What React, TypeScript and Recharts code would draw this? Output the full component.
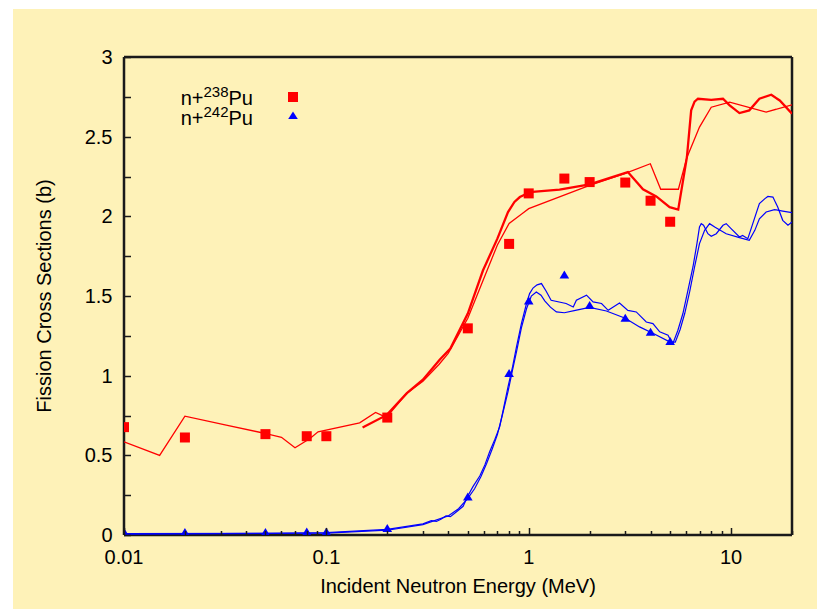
import React from 'react';
import { ComposedChart, Line, Scatter, XAxis, YAxis, Legend, Label, ReferenceLine } from 'recharts';

const FONT = '"Liberation Sans", Arial, Helvetica, sans-serif';
const BG = '#fef2b8';
const RED = '#ff0000';
const BLUE = '#0000ff';

// Experimental data (MeV, barns)
const expEnergy = [0.01, 0.02, 0.05, 0.08, 0.1, 0.2, 0.5, 0.8, 1, 1.5, 2, 3, 4, 5];
const pu238Exp = [0.677, 0.612, 0.633, 0.62, 0.62, 0.737, 1.297, 1.827, 2.144, 2.237, 2.215, 2.212, 2.098, 1.966];
const pu242Exp = [0.014, 0.012, 0.012, 0.015, 0.015, 0.038, 0.235, 1.01, 1.465, 1.628, 1.438, 1.358, 1.27, 1.212];

// n+238Pu evaluation (thin)
const pu238ThinE = [0.01, 0.015, 0.02, 0.032, 0.05, 0.06, 0.07, 0.083, 0.091, 0.146, 0.175, 0.198, 0.249, 0.3, 0.36, 0.4, 0.5, 0.6, 0.7, 0.8, 1.0, 2.0, 3.0, 3.99, 4.49, 5.49, 6.05, 6.98, 7.98, 9.84, 14.9, 20];
const pu238ThinS = [0.585, 0.5, 0.746, 0.69, 0.637, 0.613, 0.548, 0.606, 0.648, 0.704, 0.769, 0.738, 0.888, 0.965, 1.07, 1.14, 1.36, 1.61, 1.82, 1.955, 2.048, 2.194, 2.27, 2.33, 2.17, 2.17, 2.37, 2.56, 2.685, 2.717, 2.654, 2.7];

// n+238Pu calculation (thick)
const pu238ThickE = [0.151, 0.198, 0.25, 0.3, 0.363, 0.41, 0.5, 0.594, 0.7, 0.79, 0.85, 0.904, 1.01, 1.42, 2.0, 3.09, 3.67, 4.27, 4.97, 5.48, 6.05, 6.35, 6.6, 6.86, 7.98, 9.12, 9.84, 11.0, 12.3, 13.8, 15.8, 17.4, 20];
const pu238ThickS = [0.675, 0.752, 0.89, 0.975, 1.1, 1.17, 1.39, 1.66, 1.86, 2.027, 2.09, 2.121, 2.152, 2.167, 2.2, 2.278, 2.17, 2.125, 2.058, 2.042, 2.372, 2.665, 2.72, 2.738, 2.731, 2.738, 2.696, 2.648, 2.665, 2.738, 2.763, 2.727, 2.644];

// n+242Pu (structured curve)
const pu242AE = [0.01, 0.05, 0.1, 0.2, 0.3, 0.33, 0.35, 0.37, 0.39, 0.41, 0.44, 0.474, 0.5, 0.531, 0.573, 0.607, 0.641, 0.68, 0.719, 0.754, 0.79, 0.832, 0.87, 0.92, 0.975, 1.01, 1.05, 1.1, 1.156, 1.22, 1.29, 1.53, 1.66, 1.72, 1.93, 2.08, 2.29, 2.47, 2.81, 3.09, 3.4, 3.81, 4.11, 4.44, 4.88, 5.07, 5.16, 5.46, 5.78, 6.12, 6.48, 6.78, 6.98, 7.12, 7.31, 7.68, 7.98, 8.45, 9.12, 9.46, 10.0, 11.0, 11.4, 12.1, 12.8, 13.8, 14.7, 15.2, 16.1, 17.0, 18.0, 19.1, 20];
const pu242AS = [0.008, 0.01, 0.015, 0.035, 0.07, 0.09, 0.085, 0.1, 0.12, 0.115, 0.146, 0.18, 0.245, 0.305, 0.37, 0.44, 0.522, 0.6, 0.68, 0.805, 0.93, 1.055, 1.18, 1.327, 1.453, 1.515, 1.55, 1.57, 1.578, 1.53, 1.473, 1.453, 1.431, 1.473, 1.505, 1.463, 1.453, 1.41, 1.456, 1.41, 1.4, 1.337, 1.327, 1.275, 1.254, 1.212, 1.202, 1.285, 1.39, 1.536, 1.682, 1.829, 1.933, 1.954, 1.944, 1.891, 1.875, 1.891, 1.944, 1.954, 1.923, 1.87, 1.88, 1.86, 1.954, 2.08, 2.111, 2.125, 2.121, 2.058, 1.975, 1.944, 1.964];

// n+242Pu (smooth curve)
const pu242BE = [0.01, 0.1, 0.2, 0.3, 0.4, 0.45, 0.5, 0.54, 0.58, 0.62, 0.66, 0.7, 0.74, 0.79, 0.83, 0.87, 0.92, 0.975, 1.03, 1.09, 1.15, 1.2, 1.28, 1.37, 1.5, 1.7, 2.0, 2.42, 3.0, 3.53, 4.2, 4.97, 5.3, 5.6, 5.9, 6.25, 6.6, 6.98, 7.4, 7.83, 8.3, 9.46, 11.0, 12.3, 13.1, 13.8, 14.9, 16.4, 18.0, 20];
const pu242BS = [0.005, 0.012, 0.03, 0.065, 0.12, 0.165, 0.23, 0.29, 0.365, 0.45, 0.54, 0.63, 0.75, 0.9, 1.03, 1.15, 1.3, 1.42, 1.5, 1.525, 1.505, 1.47, 1.43, 1.4, 1.395, 1.41, 1.428, 1.406, 1.36, 1.306, 1.26, 1.212, 1.21, 1.29, 1.39, 1.53, 1.682, 1.829, 1.912, 1.954, 1.933, 1.891, 1.866, 1.85, 1.912, 1.985, 2.027, 2.042, 2.033, 2.023];

// Axis ticks
const xTicks = [0.01, 0.02, 0.03, 0.04, 0.05, 0.06, 0.07, 0.08, 0.09, 0.1, 0.2, 0.3, 0.4, 0.5, 0.6, 0.7, 0.8, 0.9, 1, 2, 3, 4, 5, 6, 7, 8, 9, 10, 20];
const xMajor = [0.01, 0.1, 1, 10];
const xMajorLabels = ['0.01', '0.1', '1', '10'];
const yTicks = [0, 0.25, 0.5, 0.75, 1, 1.25, 1.5, 1.75, 2, 2.25, 2.5, 2.75, 3];
const yMajor = [0, 0.5, 1, 1.5, 2, 2.5, 3];
const yMajorLabels = ['0', '0.5', '1', '1.5', '2', '2.5', '3'];
const xDomain = [0.01, 20];
const yDomain = [0, 3];

const zip = (xs: number[], ys: number[]) => xs.map((x, i) => ({ x, y: ys[i] }));

const expPu238 = zip(expEnergy, pu238Exp);
const expPu242 = zip(expEnergy, pu242Exp);
const thinPu238 = zip(pu238ThinE, pu238ThinS);
const thickPu238 = zip(pu238ThickE, pu238ThickS);
const curvePu242A = zip(pu242AE, pu242AS);
const curvePu242B = zip(pu242BE, pu242BS);

// layout (chart coordinates)
const W = 804;
const H = 600;
const M = { top: 48, right: 25, bottom: 34, left: 51 };
const Y_AXIS_W = 60;
const X_AXIS_H = 40;

const near = (a: number, b: number) => Math.abs(a - b) < 1e-9;
const snap = (v: number) => Math.round(v) + 0.5;
const TEXT = { fontFamily: FONT, fontSize: 20, fill: '#000' };
const INK = '#1a1a1a';

const BottomTick = (p: any) => {
  const v = p.payload.value;
  const idx = xMajor.findIndex((m) => near(m, v));
  const len = idx >= 0 ? 7 : 4;
  const x = snap(p.x);
  return (
    <g>
      <line x1={x} x2={x} y1={p.y} y2={p.y - len} stroke={INK} strokeWidth={1.5} />
      {idx >= 0 && (
        <text x={p.x} y={p.y + 28.5} textAnchor="middle" style={TEXT}>
          {xMajorLabels[idx]}
        </text>
      )}
    </g>
  );
};

const TopTick = (p: any) => {
  const v = p.payload.value;
  const idx = xMajor.findIndex((m) => near(m, v));
  const len = idx >= 0 ? 7 : 4;
  const x = snap(p.x);
  return <line x1={x} x2={x} y1={p.y} y2={p.y + len} stroke={INK} strokeWidth={1.5} />;
};

const LeftTick = (p: any) => {
  const v = p.payload.value;
  const idx = yMajor.findIndex((m) => near(m, v));
  const y = snap(p.y);
  return (
    <g>
      <line x1={p.x} x2={p.x + 7} y1={y} y2={y} stroke={INK} strokeWidth={1.5} />
      {idx >= 0 && (
        <text x={p.x - 11.5} y={p.y + 7} textAnchor="end" style={TEXT}>
          {yMajorLabels[idx]}
        </text>
      )}
    </g>
  );
};

const RightTick = (p: any) => {
  const y = snap(p.y);
  return <line x1={p.x} x2={p.x - 7} y1={y} y2={y} stroke={INK} strokeWidth={1.5} />;
};

const SquareShape = (p: any) => (
  <rect x={p.cx - 5} y={p.cy - 5} width={10} height={10} fill={RED} />
);
const TriangleShape = (p: any) => (
  <polygon
    points={`${p.cx},${p.cy - 5} ${p.cx + 4.8},${p.cy + 3} ${p.cx - 4.8},${p.cy + 3}`}
    fill={BLUE}
  />
);

const LegendContent = () => (
  <div style={{ position: 'relative', width: 200, height: 50, fontFamily: FONT, fontSize: 20, color: '#000' }}>
    <div style={{ position: 'absolute', left: 0, top: 9, width: 140, textAlign: 'right', lineHeight: '20px', whiteSpace: 'nowrap' }}>
      n+<span style={{ fontSize: 15, position: 'relative', top: -8 }}>238</span>Pu
    </div>
    <div style={{ position: 'absolute', left: 0, top: 29, width: 140, textAlign: 'right', lineHeight: '20px', whiteSpace: 'nowrap' }}>
      n+<span style={{ fontSize: 15, position: 'relative', top: -8 }}>242</span>Pu
    </div>
    <svg style={{ position: 'absolute', left: 170, top: 8 }} width={20} height={40}>
      <rect x={5} y={5} width={10} height={10} fill={RED} />
      <polygon points="10,24.5 14.8,32 5.2,32" fill={BLUE} />
    </svg>
  </div>
);

const XTitle = (props: any) => {
  const vb = props.viewBox;
  return (
    <text x={vb.x + vb.width / 2} y={vb.y + 58} textAnchor="middle" style={TEXT}>
      Incident Neutron Energy (MeV)
    </text>
  );
};

const YTitle = (props: any) => {
  const vb = props.viewBox;
  const x = vb.x - 13.5;
  const y = vb.y + vb.height / 2;
  return (
    <text x={x} y={y} transform={`rotate(-90, ${x}, ${y})`} textAnchor="middle" style={TEXT}>
      Fission Cross Sections (b)
    </text>
  );
};

const FRAME = { stroke: INK, strokeWidth: 2.5, ifOverflow: 'visible' as const };

export default function App() {
  return (
    <div style={{ position: 'fixed', left: 13, top: 9, width: W, height: H, background: BG }}>
      <ComposedChart width={W} height={H} margin={M}>
        <XAxis
          dataKey="x"
          type="number"
          scale="log"
          domain={xDomain}
          allowDataOverflow
          ticks={xTicks}
          interval={0}
          height={X_AXIS_H}
          tickSize={0}
          tickMargin={0}
          tickLine={false}
          tick={<BottomTick />}
          axisLine={false}
        >
          <Label content={<XTitle />} />
        </XAxis>
        <XAxis
          xAxisId="top"
          orientation="top"
          dataKey="x"
          type="number"
          scale="log"
          domain={xDomain}
          allowDataOverflow
          ticks={xTicks}
          interval={0}
          height={0}
          tickSize={0}
          tickMargin={0}
          tickLine={false}
          tick={<TopTick />}
          axisLine={false}
        />
        <YAxis
          dataKey="y"
          type="number"
          domain={yDomain}
          allowDataOverflow
          ticks={yTicks}
          interval={0}
          width={Y_AXIS_W}
          tickSize={0}
          tickMargin={0}
          tickLine={false}
          tick={<LeftTick />}
          axisLine={false}
        >
          <Label content={<YTitle />} />
        </YAxis>
        <YAxis
          yAxisId="right"
          orientation="right"
          dataKey="y"
          type="number"
          domain={yDomain}
          allowDataOverflow
          ticks={yTicks}
          interval={0}
          width={0}
          tickSize={0}
          tickMargin={0}
          tickLine={false}
          tick={<RightTick />}
          axisLine={false}
        />
        <ReferenceLine x={xDomain[0]} {...FRAME} />
        <ReferenceLine x={xDomain[1]} {...FRAME} />
        <ReferenceLine y={yDomain[0]} {...FRAME} />
        <ReferenceLine y={yDomain[1]} {...FRAME} />
        <Line data={thinPu238} dataKey="y" type="linear" stroke={RED} strokeWidth={1.3} dot={false} isAnimationActive={false} legendType="none" />
        <Line data={thickPu238} dataKey="y" type="linear" stroke={RED} strokeWidth={2.3} dot={false} isAnimationActive={false} legendType="none" />
        <Line data={curvePu242A} dataKey="y" type="linear" stroke={BLUE} strokeWidth={1.2} dot={false} isAnimationActive={false} legendType="none" />
        <Line data={curvePu242B} dataKey="y" type="linear" stroke={BLUE} strokeWidth={1.2} dot={false} isAnimationActive={false} legendType="none" />
        <Scatter data={expPu238} dataKey="y" shape={<SquareShape />} isAnimationActive={false} />
        <Scatter data={expPu242} dataKey="y" shape={<TriangleShape />} isAnimationActive={false} />
        <Legend
          layout="vertical"
          align="center"
          verticalAlign="middle"
          content={<LegendContent />}
          wrapperStyle={{ position: 'absolute', left: 100, top: 70, width: 200, height: 50 }}
        />
      </ComposedChart>
    </div>
  );
}
